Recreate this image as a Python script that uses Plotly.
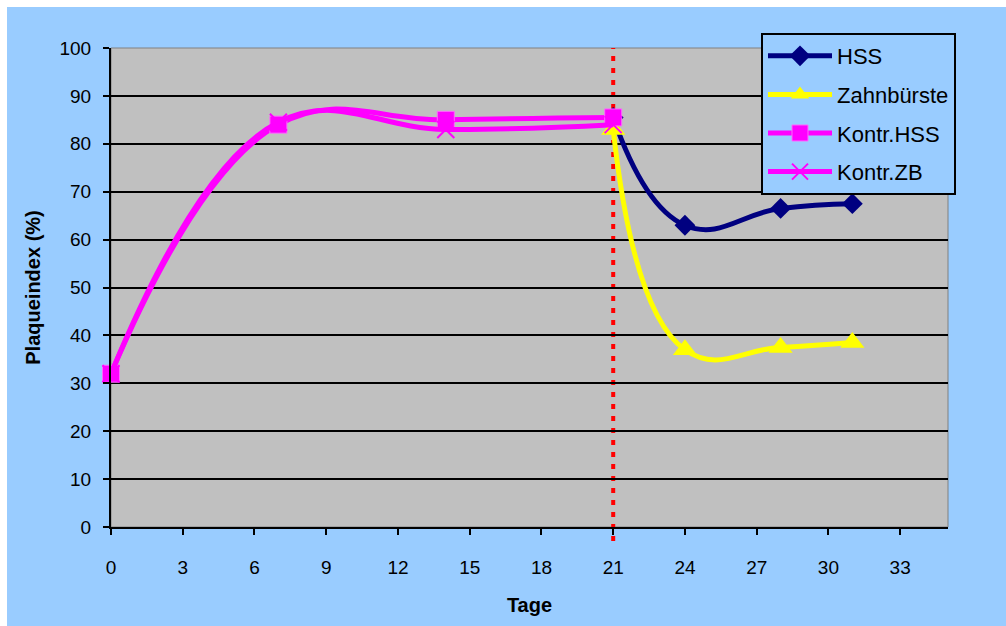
import plotly.graph_objects as go

# ---- data ----
days_kontr = [0, 7, 14, 21]
kontr_hss = [32, 84, 85, 85.5]
kontr_zb = [32, 84.5, 83, 84]
days_treat = [21, 24, 28, 31]
hss = [85.5, 63, 66.5, 67.5]
zahnbuerste = [83, 37, 37.5, 38.5]
x_ticks = [0, 3, 6, 9, 12, 15, 18, 21, 24, 27, 30, 33]
y_ticks = [0, 10, 20, 30, 40, 50, 60, 70, 80, 90, 100]
switch_day = 21

FONT = "Arial, Liberation Sans, sans-serif"
W, H = 1006, 626
ML, MR, MT, MB = 111, 58, 48, 99
pw, ph = W - ML - MR, H - MT - MB

def px_x(p):
    return (p - ML) / pw

def px_y(p):
    return (H - MB - p) / ph

SMOOTH_T = 1.3
SMOOTH_K = 1.2

fig = go.Figure()

fig.add_trace(go.Scatter(
    x=days_treat, y=hss, name="HSS", mode="lines+markers", cliponaxis=False,
    line=dict(color="#000080", width=5, shape="spline", smoothing=SMOOTH_T),
    marker=dict(symbol="diamond", size=16, color="#000080"),
    legendgroup="a",
))
fig.add_trace(go.Scatter(
    x=days_treat, y=zahnbuerste, name="Zahnbürste", mode="lines+markers", cliponaxis=False,
    line=dict(color="#FFFF00", width=5, shape="spline", smoothing=SMOOTH_T),
    marker=dict(symbol="triangle-up", size=21, color="#FFFF00"),
    legendgroup="b",
))
fig.add_trace(go.Scatter(
    x=days_kontr, y=kontr_hss, name="Kontr.HSS", mode="lines+markers", cliponaxis=False,
    line=dict(color="#FF00FF", width=5, shape="spline", smoothing=SMOOTH_K),
    marker=dict(symbol="square", size=17, color="#FF00FF",
                line=dict(color="#FF66FF", width=1)),
    legendgroup="c",
))
fig.add_trace(go.Scatter(
    x=days_kontr, y=kontr_zb, name="Kontr.ZB", mode="lines+markers", cliponaxis=False,
    line=dict(color="#FF00FF", width=5, shape="spline", smoothing=SMOOTH_K),
    marker=dict(symbol="x-thin", size=17, color="#FF00FF",
                line=dict(color="#FF00FF", width=2)),
    legendgroup="d",
))

shapes = [
    dict(type="rect", xref="paper", yref="paper", layer="below",
         x0=px_x(7), x1=px_x(W + 2), y0=px_y(H + 2), y1=px_y(7),
         fillcolor="#99CCFF", line=dict(width=0)),
    dict(type="rect", xref="paper", yref="paper", layer="below",
         x0=0, x1=1, y0=0, y1=1,
         fillcolor="#C0C0C0", line=dict(color="#808080", width=1)),
    dict(type="line", xref="x", yref="paper", layer="below",
         x0=switch_day, x1=switch_day, y0=px_y(541), y1=1,
         line=dict(color="#FF0000", width=4, dash="5px,7px")),
]

fig.update_layout(
    width=W, height=H,
    margin=dict(l=ML, r=MR, t=MT, b=MB, pad=0),
    paper_bgcolor="#FFFFFF",
    plot_bgcolor="rgba(0,0,0,0)",
    font=dict(family=FONT, color="#000000", size=19),
    shapes=shapes,
    showlegend=True,
    legend=dict(
        x=px_x(761), y=px_y(33), xanchor="left", yanchor="top",
        bgcolor="#99CCFF", bordercolor="#000000", borderwidth=2,
        font=dict(family=FONT, size=22, color="#000000"),
        tracegroupgap=7, itemwidth=64,
    ),
    xaxis=dict(
        range=[0, 35], tickvals=x_ticks, ticktext=[str(v) for v in x_ticks],
        showgrid=False, zeroline=False,
        showline=True, linecolor="#000000", linewidth=2,
        ticks="outside", ticklen=6, tickwidth=2, tickcolor="#000000",
        ticklabelstandoff=16,
        tickfont=dict(family=FONT, size=19),
        title=dict(text="<b>Tage</b>", font=dict(family=FONT, size=20), standoff=21),
        automargin=False,
    ),
    yaxis=dict(
        range=[0, 100], tickvals=y_ticks, ticktext=[str(v) for v in y_ticks],
        showgrid=True, gridcolor="#000000", gridwidth=1.5,
        zeroline=False,
        showline=True, linecolor="#000000", linewidth=2,
        ticks="outside", ticklen=6, tickwidth=2, tickcolor="#000000",
        ticklabelstandoff=8,
        tickfont=dict(family=FONT, size=19),
        title=dict(text="<b>Plaqueindex (%)</b>", font=dict(family=FONT, size=20), standoff=13),
        automargin=False,
    ),
)

fig.write_html("out.html")
